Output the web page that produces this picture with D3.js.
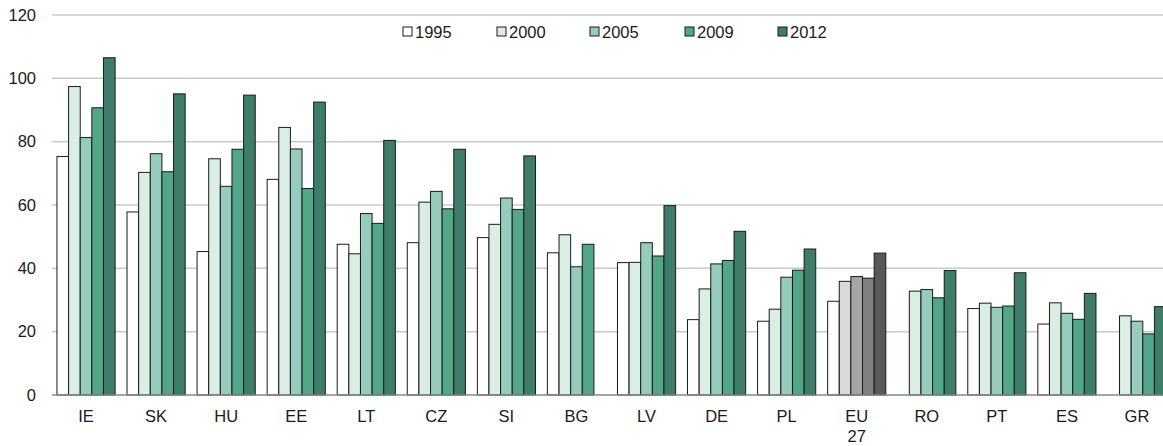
<!DOCTYPE html>
<html><head><meta charset="utf-8">
<script src="https://cdn.jsdelivr.net/npm/d3@7"></script>
<style>body{margin:0;background:#fff}svg{display:block;font-family:"Liberation Sans",Arial,sans-serif}</style>
</head><body><svg id="c" width="1163" height="446"></svg>
<script>
const categories = ["IE","SK","HU","EE","LT","CZ","SI","BG","LV","DE","PL","EU 27","RO","PT","ES","GR"];
const series = ["1995","2000","2005","2009","2012"];
const v1995 = [75.3,57.8,45.3,68.1,47.6,48.1,49.7,44.9,41.8,23.8,23.3,29.6,null,27.3,22.4,null];
const v2000 = [97.4,70.3,74.6,84.5,44.6,60.9,53.9,50.6,41.9,33.5,27.1,35.9,32.8,29.0,29.1,25.0];
const v2005 = [81.3,76.2,65.9,77.7,57.3,64.3,62.2,40.5,48.1,41.4,37.2,37.4,33.3,27.7,25.8,23.3];
const v2009 = [90.7,70.5,77.6,65.2,54.2,58.8,58.6,47.6,43.9,42.5,39.4,36.9,30.7,28.1,23.9,19.3];
const v2012 = [106.5,95.1,94.7,92.5,80.4,77.6,75.5,null,59.8,51.7,46.1,44.8,39.3,38.6,32.1,27.9];
const yTicks = [0,20,40,60,80,100,120];
const values = [v1995,v2000,v2005,v2009,v2012];
const greenColors = ["#ffffff","#dbeee6","#96ccbb","#52a68a","#3d7d6a"];
const greyColors = ["#ffffff","#d9d9d9","#a6a6a6","#808080","#595959"];
const FS = 16.5;

const svg = d3.select("#c");
const x = d3.scaleBand().domain(categories).range([51,1172]).paddingInner(0.17).paddingOuter(0.085);
const xi = d3.scaleBand().domain(series).range([0,x.bandwidth()]);
const y = d3.scaleLinear().domain([0,120]).range([395,15]);

// grid
svg.append("g").selectAll("line").data(yTicks.filter(d=>d>0)).join("line")
  .attr("x1",52).attr("x2",1163).attr("y1",d=>y(d)).attr("y2",d=>y(d))
  .attr("stroke","#c9c9c9").attr("stroke-width",1.5);

// bars
const g = svg.append("g");
categories.forEach((c,ci)=>{
  series.forEach((s,si)=>{
    const v = values[si][ci];
    if(v==null) return;
    const isEU = c==="EU 27";
    g.append("rect")
      .attr("x",x(c)+xi(s)).attr("width",xi.bandwidth())
      .attr("y",y(v)).attr("height",y(0)-y(v))
      .attr("fill",(isEU?greyColors:greenColors)[si])
      .attr("stroke","#1a1a1a").attr("stroke-width",1);
  });
});

// axis line
svg.append("line").attr("x1",52).attr("x2",1163).attr("y1",y(0)).attr("y2",y(0))
  .attr("stroke","#888").attr("stroke-width",1.5);

// y labels
const yAxis = d3.axisLeft(y).tickValues(yTicks).tickSize(0).tickPadding(0);
const ya = svg.append("g").attr("transform","translate(36,0)").call(yAxis);
ya.select(".domain").remove();
ya.selectAll("text").attr("font-size",FS).attr("fill","#1a1a1a").attr("font-family","Liberation Sans, Arial, sans-serif");

// x labels
const xl = svg.append("g").selectAll("text").data(categories).join("text")
  .attr("x",d=>x(d)+x.bandwidth()/2).attr("y",421.5)
  .attr("text-anchor","middle").attr("font-size",FS).attr("fill","#1a1a1a");
xl.each(function(d){
  const parts = d.split(" ");
  const t = d3.select(this);
  parts.forEach((p,i)=>t.append("tspan").attr("x",x(d)+x.bandwidth()/2).attr("dy",i?20:0).text(p));
});

// legend
const lx = [403,497,590,685,778];
const lg = svg.append("g");
series.forEach((s,i)=>{
  lg.append("rect").attr("x",lx[i]).attr("y",27).attr("width",9).attr("height",9)
    .attr("fill",greenColors[i]).attr("stroke","#1a1a1a").attr("stroke-width",1);
  lg.append("text").attr("x",lx[i]+12).attr("y",38).attr("font-size",FS).attr("fill","#1a1a1a").text(s);
});
</script></body></html>
